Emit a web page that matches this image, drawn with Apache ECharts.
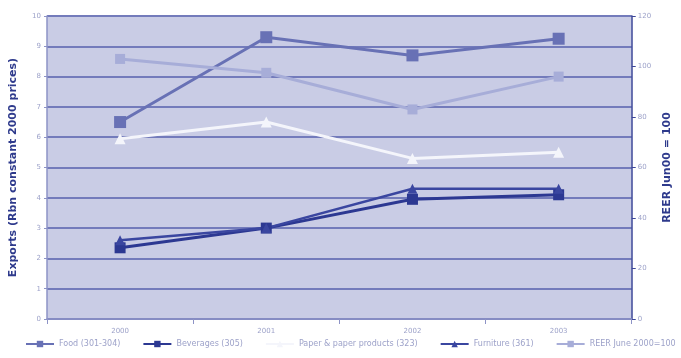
<!DOCTYPE html>
<html>
<head>
<meta charset="utf-8">
<script src="https://cdn.jsdelivr.net/npm/echarts@6/dist/echarts.min.js"></script>
<style>html,body{margin:0;padding:0;background:#fff;}#c{width:681px;height:358px;}</style>
</head>
<body>
<div id="c"></div>
<script>
const categories = ['2000', '2001', '2002', '2003'];
const food = [6.5, 9.3, 8.7, 9.25];
const beverages = [2.35, 3.0, 3.95, 4.1];
const paper = [5.95, 6.5, 5.3, 5.5];
const furniture = [2.6, 3.0, 4.3, 4.3];
const reer = [103, 97.5, 83, 96];
const leftTicks = [0, 1, 2, 3, 4, 5, 6, 7, 8, 9, 10];
const rightTicks = [0, 20, 40, 60, 80, 100, 120];

const chart = echarts.init(document.getElementById('c'));
const tickFont = { color: '#9da2c9', fontSize: 7, fontFamily: 'DejaVu Sans' };
chart.setOption({
  backgroundColor: '#ffffff',
  animation: false,
  grid: { left: 47, right: 41, top: 16, bottom: 39, show: true, backgroundColor: '#c9cce5', borderWidth: 0 },
  legend: {
    bottom: 5, left: 20, itemGap: 22, itemWidth: 28, itemHeight: 8,
    textStyle: { color: '#9da2c9', fontSize: 8, fontFamily: 'DejaVu Sans' },
    data: ['Food (301-304)', 'Beverages (305)', 'Paper & paper products (323)', 'Furniture (361)', 'REER June 2000=100']
  },
  xAxis: {
    type: 'category', data: categories, boundaryGap: true,
    axisLine: { lineStyle: { color: '#8d93c6', width: 1.5 } },
    axisTick: { show: true, alignWithLabel: false, lineStyle: { color: '#8d93c6' } },
    axisLabel: Object.assign({ margin: 9 }, tickFont)
  },
  yAxis: [
    {
      type: 'value', min: leftTicks[0], max: leftTicks[leftTicks.length - 1], interval: 1,
      name: 'Exports (Rbn constant 2000 prices)', nameLocation: 'middle', nameGap: 28, nameRotate: 90,
      nameTextStyle: { color: '#2e3a8c', fontSize: 11, fontWeight: 'bold', fontFamily: 'DejaVu Sans' },
      axisLine: { show: true, lineStyle: { color: '#8d93c6', width: 1.5 } },
      axisTick: { show: true, length: 3, lineStyle: { color: '#8d93c6' } },
      axisLabel: Object.assign({ margin: 6 }, tickFont),
      splitLine: { show: true, lineStyle: { color: '#737bbb', width: 2 } }
    },
    {
      type: 'value', min: rightTicks[0], max: rightTicks[rightTicks.length - 1], interval: 20,
      name: 'REER Jun00 = 100', nameLocation: 'middle', nameGap: 26, nameRotate: 90,
      nameTextStyle: { color: '#2e3a8c', fontSize: 11, fontWeight: 'bold', fontFamily: 'DejaVu Sans' },
      position: 'right',
      axisLine: { show: true, lineStyle: { color: '#3d4798', width: 1.5 } },
      axisTick: { show: true, length: 4, inside: false, lineStyle: { color: '#3d4798' } },
      axisLabel: Object.assign({ margin: 6 }, tickFont),
      splitLine: { show: false }
    }
  ],
  series: [
    { name: 'Food (301-304)', type: 'line', data: food, yAxisIndex: 0, symbol: 'rect', symbolSize: 12,
      itemStyle: { color: '#6871b5' }, lineStyle: { color: '#6871b5', width: 3 } },
    { name: 'Beverages (305)', type: 'line', data: beverages, yAxisIndex: 0, symbol: 'rect', symbolSize: 11,
      itemStyle: { color: '#2c3892' }, lineStyle: { color: '#2c3892', width: 3 } },
    { name: 'Paper & paper products (323)', type: 'line', data: paper, yAxisIndex: 0, symbol: 'triangle', symbolSize: 11,
      itemStyle: { color: '#f4f5fb' }, lineStyle: { color: '#f4f5fb', width: 3 } },
    { name: 'Furniture (361)', type: 'line', data: furniture, yAxisIndex: 0, symbol: 'triangle', symbolSize: 10,
      itemStyle: { color: '#3a46a0' }, lineStyle: { color: '#3a46a0', width: 2.5 } },
    { name: 'REER June 2000=100', type: 'line', data: reer, yAxisIndex: 1, symbol: 'rect', symbolSize: 10,
      itemStyle: { color: '#a7add8' }, lineStyle: { color: '#a7add8', width: 3 } }
  ]
});
</script>
</body>
</html>
